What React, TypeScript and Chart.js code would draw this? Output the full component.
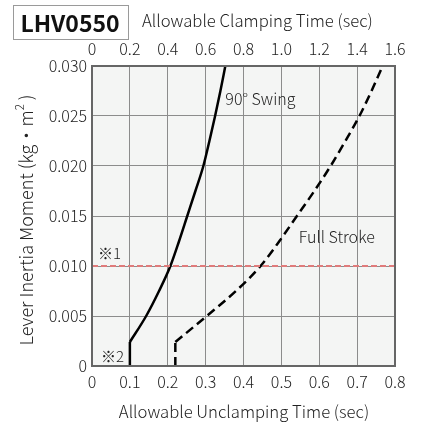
import React, { useEffect, useRef } from "react";
import { Chart, registerables } from "chart.js";

Chart.register(...registerables);

const modelName = "LHV0550";
const bottomTitle = "Allowable Unclamping Time (sec)";
const topTitle = "Allowable Clamping Time (sec)";
const yTitleMain = "Lever Inertia Moment (kg・m";
const yTitleSup = "2";
const yTitleEnd = " )";

const bottomTicks = [0, 0.1, 0.2, 0.3, 0.4, 0.5, 0.6, 0.7, 0.8];
const topTicks = [0, 0.2, 0.4, 0.6, 0.8, 1.0, 1.2, 1.4, 1.6];
const yTicks = [0, 0.005, 0.01, 0.015, 0.02, 0.025, 0.03];

const swingX = [0.1, 0.1, 0.143, 0.177, 0.207, 0.23, 0.2515, 0.273, 0.294, 0.31, 0.325, 0.339, 0.352];
const swingY = [0, 0.0024, 0.005, 0.0075, 0.01, 0.0125, 0.015, 0.0175, 0.02, 0.0225, 0.025, 0.0275, 0.03];

const strokeX = [0.22, 0.22, 0.303, 0.38, 0.445, 0.495, 0.541, 0.587, 0.63, 0.669, 0.706, 0.738, 0.765];
const strokeY = [0, 0.0024, 0.005, 0.0075, 0.01, 0.0125, 0.015, 0.0175, 0.02, 0.0225, 0.025, 0.0275, 0.0298];

const limitY = 0.01;
const limitX = [0, 0.8];

const labels = [
  { text: "90° Swing", x: 0.352, y: 0.0267 },
  { text: "Full Stroke", x: 0.546, y: 0.0129 },
  { text: "※1", x: 0.016, y: 0.0113 },
  { text: "※2", x: 0.024, y: 0.001 },
];

const FONT = '"Noto Sans CJK JP", "Noto Sans", sans-serif';
const W = 300;

export default function App() {
  const ref = useRef<HTMLCanvasElement>(null);
  useEffect(() => {
    const canvas = ref.current!;
    const pts = (xs: number[], ys: number[]) => xs.map((x, i) => ({ x, y: ys[i] }));
    const fmt1 = (v: number) => (v === 0 ? "0" : v.toFixed(1));
    const fmt3 = (v: number) => (v === 0 ? "0" : v.toFixed(3));

    const deco = {
      id: "deco",
      beforeDraw(chart: any) {
        const { ctx, chartArea: a } = chart;
        ctx.save();
        ctx.fillStyle = "#ffffff";
        ctx.fillRect(0, 0, chart.width, chart.height);
        ctx.fillStyle = "#f4f5f4";
        ctx.fillRect(a.left, a.top, a.right - a.left, a.bottom - a.top);
        ctx.restore();
      },
      afterDraw(chart: any) {
        const { ctx, chartArea: a, scales } = chart;
        ctx.save();
        ctx.strokeStyle = "#666666";
        ctx.lineWidth = 2;
        ctx.strokeRect(a.left, a.top, a.right - a.left, a.bottom - a.top);
        ctx.strokeStyle = "#9a9a9a";
        ctx.lineWidth = 1;
        ctx.strokeRect(13.5, 5.5, 115, 34);
        ctx.fillStyle = "#111";
        ctx.font = `bold 23px ${FONT}`;
        ctx.textAlign = "center";
        ctx.textBaseline = "middle";
        ctx.fillText(modelName, 70, 23);
        ctx.font = `${W} 16.7px ${FONT}`;
        ctx.fillStyle = "#222";
        ctx.textAlign = "left";
        ctx.fillText(topTitle, 142, 21);
        ctx.textAlign = "center";
        ctx.fillText(bottomTitle, 244, 412);
        ctx.save();
        ctx.translate(26, 220);
        ctx.rotate(-Math.PI / 2);
        const big = `${W} 18px ${FONT}`;
        const small = `${W} 11.5px ${FONT}`;
        ctx.font = big;
        const w1 = ctx.measureText(yTitleMain).width;
        ctx.font = small;
        const w2 = ctx.measureText(yTitleSup).width;
        ctx.font = big;
        const w3 = ctx.measureText(yTitleEnd).width;
        let x0 = -(w1 + w2 + w3) / 2;
        ctx.textAlign = "left";
        ctx.fillText(yTitleMain, x0, 0);
        x0 += w1;
        ctx.font = small;
        ctx.fillText(yTitleSup, x0, -6);
        x0 += w2;
        ctx.font = big;
        ctx.fillText(yTitleEnd, x0, 0);
        ctx.restore();
        ctx.fillStyle = "#222";
        ctx.textAlign = "left";
        ctx.textBaseline = "middle";
        labels.forEach((l) => {
          const size = l.text.startsWith("※") ? 15 : 16;
          ctx.font = `${W} ${size}px ${FONT}`;
          ctx.fillText(l.text, scales.x.getPixelForValue(l.x), scales.y.getPixelForValue(l.y));
        });
        ctx.restore();
      },
    };

    const tickFont = { family: FONT, size: 16, weight: W } as any;
    const sw = pts(swingX, swingY);
    const st = pts(strokeX, strokeY);

    const chart = new Chart(canvas, {
      type: "line",
      data: {
        datasets: [
          {
            label: "limit",
            data: pts(limitX, [limitY, limitY]),
            borderColor: "#e07b7b",
            borderWidth: 2,
            borderDash: [6, 3],
            pointRadius: 0,
          },
          {
            label: "90° Swing (start)",
            data: sw.slice(0, 2),
            borderColor: "#000",
            borderWidth: 2.5,
            pointRadius: 0,
          },
          {
            label: "90° Swing",
            data: sw.slice(1),
            borderColor: "#000",
            borderWidth: 2.5,
            pointRadius: 0,
            cubicInterpolationMode: "monotone",
          },
          {
            label: "Full Stroke (start)",
            data: st.slice(0, 2),
            borderColor: "#000",
            borderWidth: 2.5,
            borderDash: [9, 5],
            pointRadius: 0,
          },
          {
            label: "Full Stroke",
            data: st.slice(1),
            borderColor: "#000",
            borderWidth: 2.5,
            borderDash: [9, 5],
            pointRadius: 0,
            cubicInterpolationMode: "monotone",
          },
        ],
      },
      options: {
        responsive: false,
        animation: false,
        devicePixelRatio: 1,
        layout: { padding: { left: 0, right: 26, top: 0, bottom: 0 } },
        plugins: { legend: { display: false }, tooltip: { enabled: false } },
        scales: {
          x: {
            type: "linear",
            position: "bottom",
            min: 0,
            max: 0.8,
            afterBuildTicks: (s: any) => {
              s.ticks = bottomTicks.map((v) => ({ value: v }));
            },
            afterFit: (s: any) => {
              s.height = 57;
            },
            grid: { color: "#8c8c8c", lineWidth: 1, drawTicks: false },
            border: { display: false },
            ticks: {
              padding: 6,
              color: "#222",
              font: tickFont,
              callback: (v: any) => fmt1(Number(v)),
              maxRotation: 0,
              autoSkip: false,
            },
          },
          x2: {
            type: "linear",
            position: "top",
            min: 0,
            max: 1.6,
            afterBuildTicks: (s: any) => {
              s.ticks = topTicks.map((v) => ({ value: v }));
            },
            afterFit: (s: any) => {
              s.height = 66;
            },
            grid: { display: false, drawTicks: false },
            border: { display: false },
            ticks: {
              padding: 7,
              color: "#222",
              font: tickFont,
              callback: (v: any) => fmt1(Number(v)),
              maxRotation: 0,
              autoSkip: false,
            },
          },
          y: {
            type: "linear",
            min: 0,
            max: 0.03,
            afterBuildTicks: (s: any) => {
              s.ticks = yTicks.map((v) => ({ value: v }));
            },
            afterFit: (s: any) => {
              s.width = 92;
            },
            grid: { color: "#8c8c8c", lineWidth: 1, drawTicks: false },
            border: { display: false },
            ticks: {
              padding: 5,
              color: "#222",
              font: tickFont,
              callback: (v: any) => fmt3(Number(v)),
              autoSkip: false,
            },
          },
        },
      },
      plugins: [deco],
    } as any);
    return () => chart.destroy();
  }, []);

  return (
    <div style={{ position: "absolute", left: 0, top: 0, width: 421, height: 423 }}>
      <canvas ref={ref} width={421} height={423} />
    </div>
  );
}
